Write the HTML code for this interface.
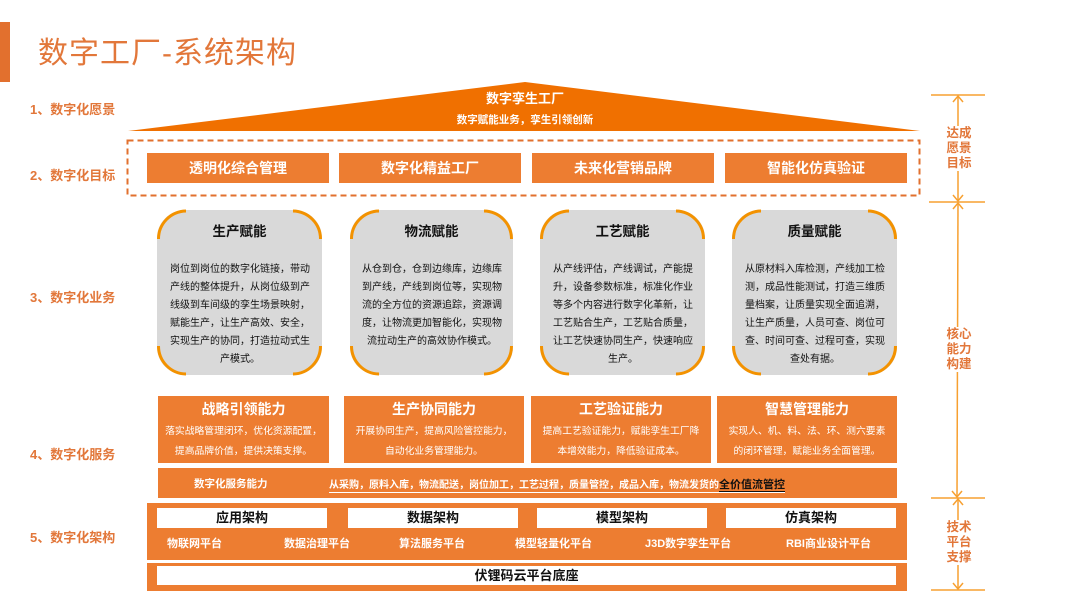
<!DOCTYPE html>
<html><head><meta charset="utf-8"><style>
*{margin:0;padding:0;box-sizing:border-box}
body{width:1080px;height:605px;background:#fff;position:relative;overflow:hidden;font-family:"Liberation Sans","Noto Sans CJK SC",sans-serif}
.a{position:absolute}
.lbl{position:absolute;left:30px;color:#e2773a;font-weight:bold;font-size:13px}
.goal{position:absolute;top:153px;height:30px;width:182px;background:#ed7d31;color:#fff;font-weight:bold;font-size:14px;text-align:center;line-height:30px}
.card{position:absolute;top:210px;width:165px;height:165px;text-align:center}
.card h3{font-size:13.5px;margin-top:10px;color:#111}
.card p{font-size:10px;line-height:18px;color:#111;margin:21px 10px 0 11px;text-align:center}
.cap{position:absolute;top:396px;height:67px;background:#ed7d31;color:#fff;text-align:center}
.cap h4{font-size:14px;margin-top:3px}
.cap p{font-size:9.8px;line-height:20px;margin-top:3px}
.wb{position:absolute;top:508px;height:20px;background:#fff;font-weight:bold;font-size:13px;text-align:center;line-height:20px;color:#111}
.pl{position:absolute;top:535px;color:#fff;font-weight:bold;font-size:11px}
.rt{position:absolute;left:944px;width:30px;color:#e2773a;font-weight:bold;font-size:12.5px;line-height:15px;text-align:center;background:#fff}
</style></head><body>
<div class="a" style="left:0;top:22px;width:10px;height:60px;background:#e2702e"></div>
<div class="a" style="left:38px;top:28px;font-size:30px;color:#e2773a;letter-spacing:1px">数字工厂-系统架构</div>

<div class="lbl" style="top:99px">1、数字化愿景</div>
<div class="lbl" style="top:165px">2、数字化目标</div>
<div class="lbl" style="top:287px">3、数字化业务</div>
<div class="lbl" style="top:444px">4、数字化服务</div>
<div class="lbl" style="top:527px">5、数字化架构</div>

<svg class="a" style="left:0;top:0" width="1080" height="605">
<polygon points="128,131 525,82 920,131" fill="#f07000"/>
<rect x="127.5" y="140.5" width="792" height="55" fill="none" stroke="#e2702e" stroke-width="2" stroke-dasharray="6,4"/>
<g fill="#d9d9d9" stroke="none">
<rect x="157" y="210" width="165" height="165" rx="28"/>
<rect x="350" y="210" width="163" height="165" rx="28"/>
<rect x="540" y="210" width="165" height="165" rx="28"/>
<rect x="732" y="210" width="165" height="165" rx="28"/>
</g>
<g fill="none" stroke="#f39200" stroke-width="3">
<path d="M186,211 A28,28 0 0 0 158.5,239 M293,211 A28,28 0 0 1 320.5,239 M158.5,346 A28,28 0 0 0 186,374 M320.5,346 A28,28 0 0 1 293,374"/>
<path d="M379,211 A28,28 0 0 0 351.5,239 M484,211 A28,28 0 0 1 511.5,239 M351.5,346 A28,28 0 0 0 379,374 M511.5,346 A28,28 0 0 1 484,374"/>
<path d="M569,211 A28,28 0 0 0 541.5,239 M676,211 A28,28 0 0 1 703.5,239 M541.5,346 A28,28 0 0 0 569,374 M703.5,346 A28,28 0 0 1 676,374"/>
<path d="M761,211 A28,28 0 0 0 733.5,239 M868,211 A28,28 0 0 1 895.5,239 M733.5,346 A28,28 0 0 0 761,374 M895.5,346 A28,28 0 0 1 868,374"/>
</g>
<g stroke="#f7a030" stroke-width="1.5" fill="none">
<line x1="931" y1="95" x2="985" y2="95"/>
<line x1="929" y1="202" x2="985" y2="202"/>
<line x1="931" y1="498" x2="985" y2="498"/>
<line x1="931" y1="590" x2="985" y2="590"/>
<line x1="958" y1="96" x2="958" y2="201"/>
<line x1="958" y1="203" x2="957" y2="497"/>
<line x1="958" y1="499" x2="958" y2="589"/>
<path d="M953,102 L958,96 L963,102 M953,195 L958,201 L963,195 M953,209 L958,203 L963,209 M952,491 L957,497 L962,491 M953,505 L958,499 L963,505 M953,583 L958,589 L963,583"/>
</g>
</svg>
<div class="a" style="left:400px;top:88px;width:250px;text-align:center;color:#fff;font-weight:bold;font-size:13px">数字孪生工厂</div>
<div class="a" style="left:400px;top:112px;width:250px;text-align:center;color:#fff;font-weight:bold;font-size:10.5px">数字赋能业务，孪生引领创新</div>

<div class="goal" style="left:147px">透明化综合管理</div>
<div class="goal" style="left:339px">数字化精益工厂</div>
<div class="goal" style="left:532px">未来化营销品牌</div>
<div class="goal" style="left:725px">智能化仿真验证</div>

<div class="card" style="left:157px"><h3>生产赋能</h3><p>岗位到岗位的数字化链接，带动<br>产线的整体提升，从岗位级到产<br>线级到车间级的孪生场景映射，<br>赋能生产，让生产高效、安全，<br>实现生产的协同，打造拉动式生<br>产模式。</p></div>
<div class="card" style="left:349px"><h3>物流赋能</h3><p>从仓到仓，仓到边缘库，边缘库<br>到产线，产线到岗位等，实现物<br>流的全方位的资源追踪，资源调<br>度，让物流更加智能化，实现物<br>流拉动生产的高效协作模式。</p></div>
<div class="card" style="left:540px"><h3>工艺赋能</h3><p>从产线评估，产线调试，产能提<br>升，设备参数标准，标准化作业<br>等多个内容进行数字化革新，让<br>工艺贴合生产，工艺贴合质量，<br>让工艺快速协同生产，快速响应<br>生产。</p></div>
<div class="card" style="left:732px"><h3>质量赋能</h3><p>从原材料入库检测，产线加工检<br>测，成品性能测试，打造三维质<br>量档案，让质量实现全面追溯，<br>让生产质量，人员可查、岗位可<br>查、时间可查、过程可查，实现<br>查处有据。</p></div>

<div class="cap" style="left:158px;width:171px"><h4>战略引领能力</h4><p>落实战略管理闭环，优化资源配置，<br>提高品牌价值，提供决策支撑。</p></div>
<div class="cap" style="left:344px;width:180px"><h4>生产协同能力</h4><p>开展协同生产，提高风险管控能力，<br>自动化业务管理能力。</p></div>
<div class="cap" style="left:531px;width:180px"><h4>工艺验证能力</h4><p>提高工艺验证能力，赋能孪生工厂降<br>本增效能力，降低验证成本。</p></div>
<div class="cap" style="left:717px;width:180px"><h4>智慧管理能力</h4><p>实现人、机、料、法、环、测六要素<br>的闭环管理，赋能业务全面管理。</p></div>

<div class="a" style="left:158px;top:468px;width:739px;height:30px;background:#ed7d31"></div>
<div class="a" style="left:194px;top:476px;color:#fff;font-weight:bold;font-size:10.5px">数字化服务能力</div>
<div class="a" style="left:329px;top:476px;color:#fff;font-weight:bold;font-size:10px;white-space:nowrap;border-bottom:1px solid #fff">从采购，原料入库，物流配送，岗位加工，工艺过程，质量管控，成品入库，物流发货的<span style="color:#111;font-size:11px;border-bottom:1px solid #111">全价值流管控</span></div>

<div class="a" style="left:147px;top:503px;width:760px;height:57px;background:#ed7d31"></div>
<div class="wb" style="left:157px;width:170px">应用架构</div>
<div class="wb" style="left:348px;width:170px">数据架构</div>
<div class="wb" style="left:537px;width:170px">模型架构</div>
<div class="wb" style="left:726px;width:170px">仿真架构</div>
<div class="pl" style="left:167px">物联网平台</div>
<div class="pl" style="left:284px">数据治理平台</div>
<div class="pl" style="left:399px">算法服务平台</div>
<div class="pl" style="left:515px">模型轻量化平台</div>
<div class="pl" style="left:645px">J3D数字孪生平台</div>
<div class="pl" style="left:786px">RBI商业设计平台</div>

<div class="a" style="left:147px;top:563px;width:760px;height:28px;background:#ed7d31"></div>
<div class="a" style="left:157px;top:566px;width:739px;height:19px;background:#fff;text-align:center;font-weight:bold;font-size:13px;line-height:19px;color:#111">伏锂码云平台底座</div>

<div class="rt" style="top:126px">达成<br>愿景<br>目标</div>
<div class="rt" style="top:327px">核心<br>能力<br>构建</div>
<div class="rt" style="top:520px">技术<br>平台<br>支撑</div>
</body></html>
